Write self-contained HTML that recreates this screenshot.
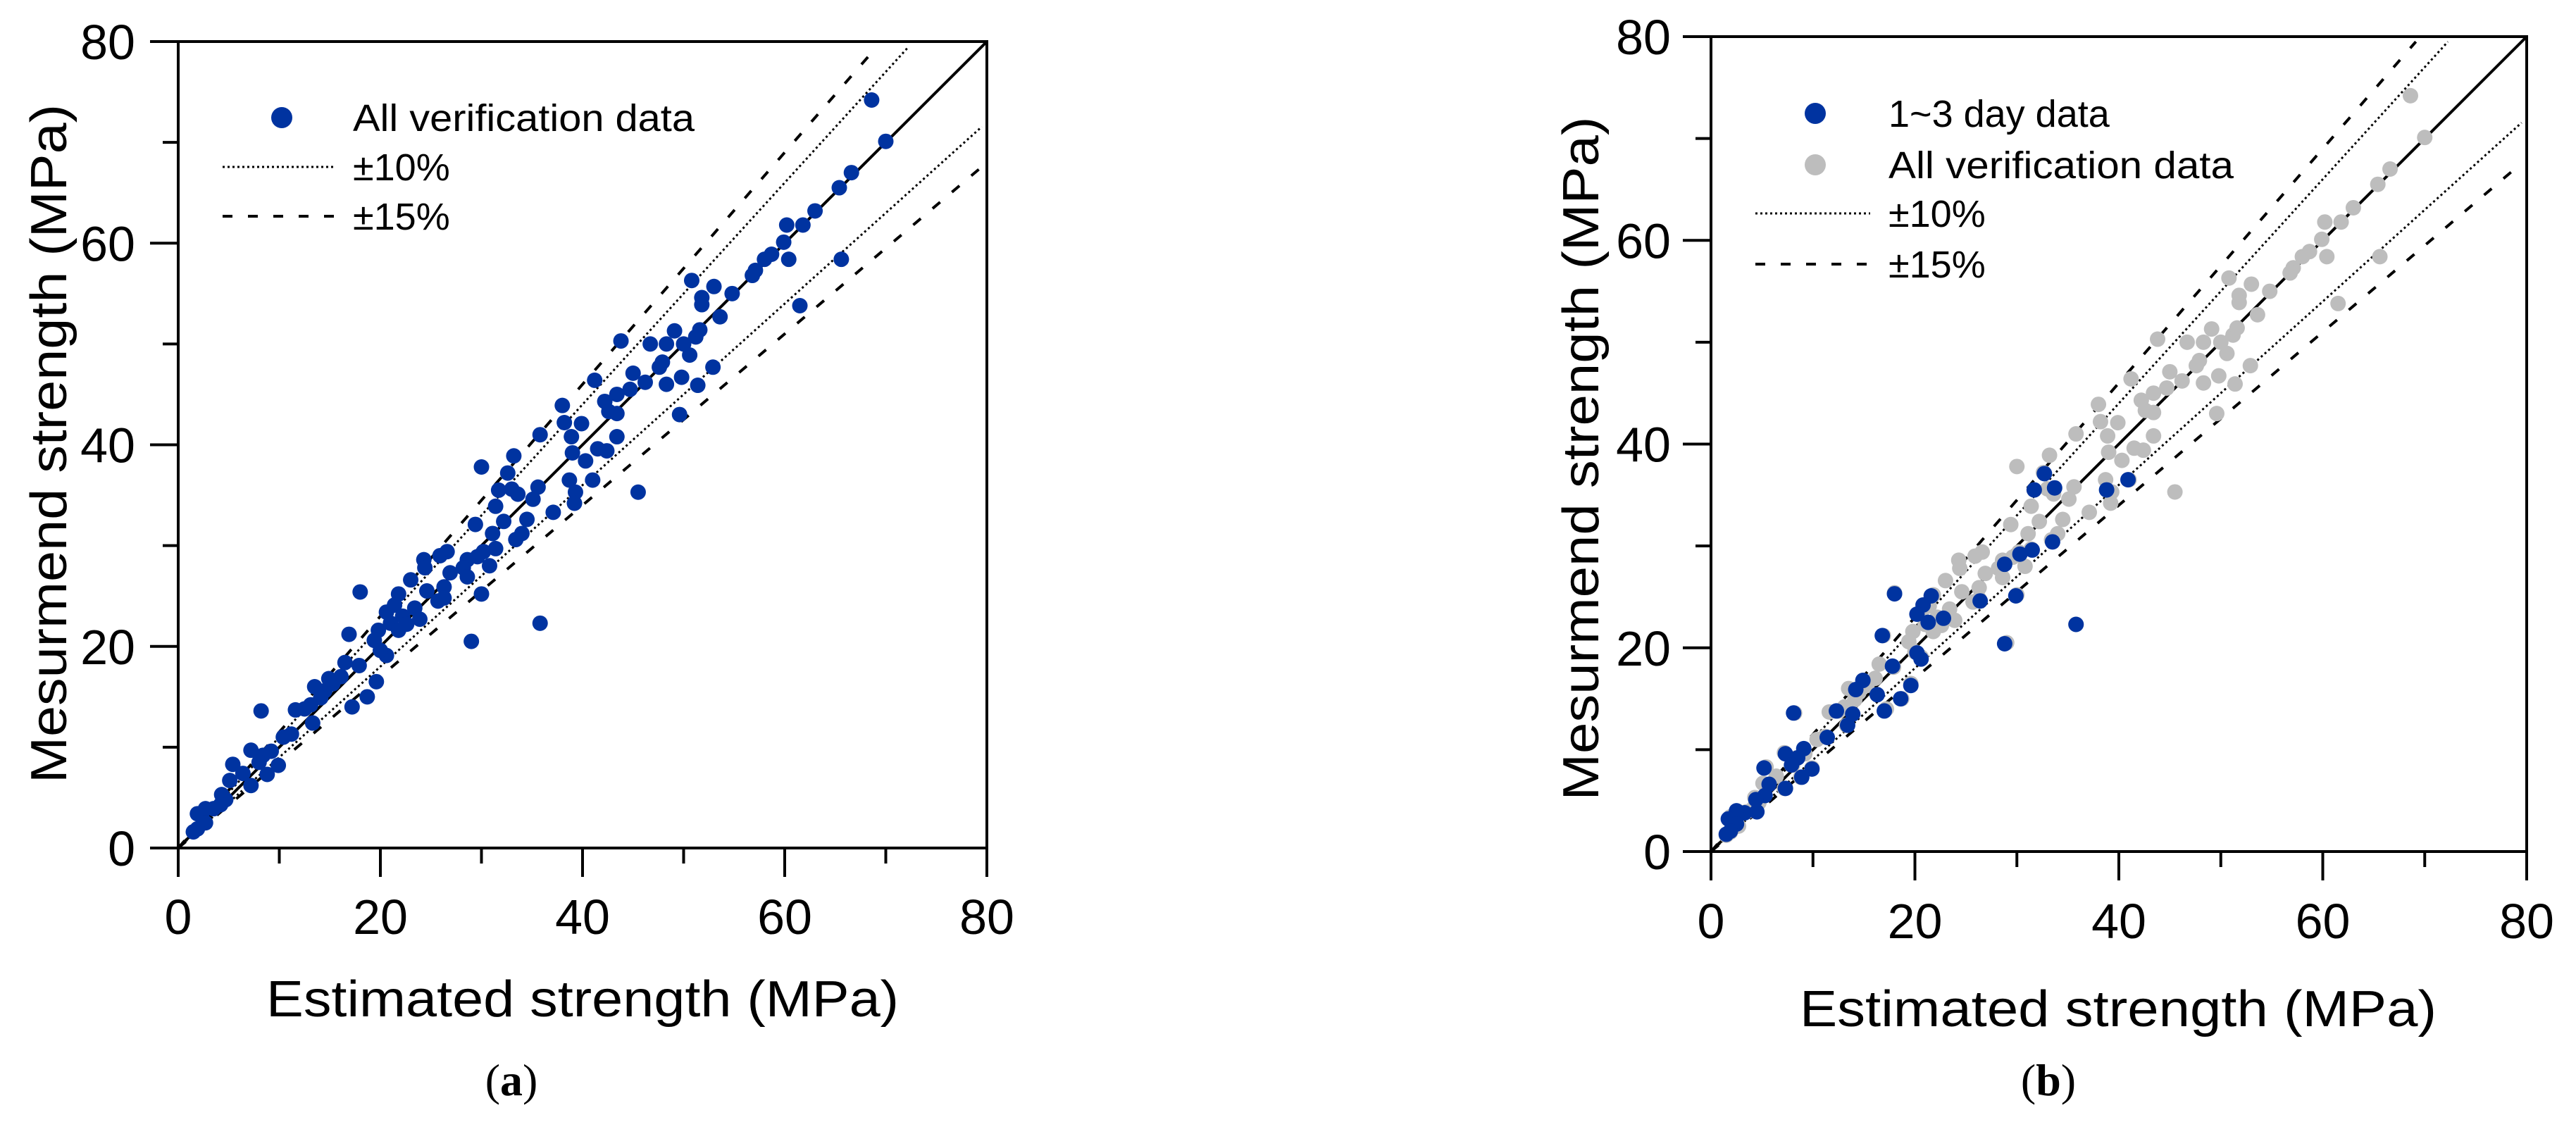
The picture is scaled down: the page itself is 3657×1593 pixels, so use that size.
<!DOCTYPE html>
<html><head><meta charset="utf-8"><style>
html,body{margin:0;padding:0;background:#fff;}
svg{display:block;}
text{font-family:"Liberation Sans",Arial,sans-serif;fill:#000;}
.cap{font-family:"Liberation Serif","Times New Roman",serif;}
</style></head><body>
<svg id="fig" width="3657" height="1593" viewBox="0 0 3657 1593" xmlns="http://www.w3.org/2000/svg">
<g id="panelA"></g>
<g id="panelB"></g>
</svg>
<script>
// All verification data (estimated, measured) in MPa
const allX = [68.6,70,66.6,65.4,63,61.8,60.2,59.9,60.4,65.6,58.7,58,57.1,56.8,54.8,53,51.8,51.8,53.6,50.8,61.5,52.9,51.4,49.6,49.8,48.3,47.6,47.9,46.7,48.3,49.1,50.6,51.2,51.6,50,46.2,45,44.7,43.8,43.4,42.2,42.6,43.4,41.2,43.4,42.4,41.5,41,40.3,39.9,39,38.9,38.2,38,38.7,39.3,39.2,37.1,35.8,35.6,35.1,34.5,33.2,32.6,31.7,33,33.6,34,33.4,31.4,32.2,31.1,30,29.4,31.4,30.2,29.6,30.8,28.6,28.2,28.6,30,29,35.8,45.5,26.6,25.9,24.3,24.4,23,24.6,26.9,26.3,25.7,26.3,21.8,21.4,20.6,22.2,23.4,23.9,21,21.8,22.6,19.8,19.4,20.6,20,18,16.9,19.6,18.7,17.9,16.5,16.1,17.2,15.3,14.5,14.9,13.5,14.1,13.1,12.5,11.6,13.3,11.2,10.4,8.2,9.2,8.4,7.2,8,8.8,9.9,5.4,6.4,7.2,5.1,4.3,4.7,3.5,2.7,1.9,2.3,2.7,1.9,1.5,4.2];
const allY = [74.2,70.1,67,65.5,63.2,61.8,61.8,60.1,58.4,58.4,58.9,58.4,57.3,56.8,55,55.7,54.6,53.9,52.7,56.3,53.8,47.7,45.9,43,46.7,46,47.7,48.2,50,50,51.3,48.9,50.7,51.4,50,46.2,47.1,45.5,50.3,45,44.3,43.3,43.1,46.4,40.8,39.4,39.6,36.5,38.4,42.1,39.2,40.8,42.2,43.9,36.5,35.3,34.2,33.3,41,35.8,34.6,32.6,38.9,37.2,35.5,35.6,35.1,31.2,30.6,33.9,32.4,31.2,37.8,32.1,29.7,29.4,28.9,28,28.6,27.8,26.9,25.2,20.5,22.3,35.3,29.4,29,28.6,27.8,26.6,25.5,27.3,25.9,24.5,24.8,25.2,24.1,23.4,23,23.8,22.7,22.3,21.6,22.2,21.6,20.6,19.1,19.6,25.4,21.2,16.5,15,18.1,18.4,17,14,16.3,15.6,16.8,16,14.9,14.2,13.8,13.7,12.4,11.3,11,13.6,9.6,9.2,9.7,8.5,7.3,8.2,8.3,7.4,6.2,6.7,5.3,4.8,3.9,3.9,3.4,3.2,2.5,1.9,1.6,4.3];
// 1~3 day data
const earlyX = [32.7,31.7,33.7,38.8,40.9,33.5,31.5,30.3,28.8,29.9,26.4,28.8,35.8,18,21.6,20.8,21.3,22.8,20.2,16.8,20.2,20.6,17.8,19.6,18.6,17,16.3,14.9,14.2,13.9,13.4,12.3,11.4,8.1,9.1,8.5,7.3,7.9,8.9,9.9,5.2,5.7,7.3,5.3,4.4,4.5,3.3,2.5,1.7,2.5,1.9,1.5];
const earlyY = [37.1,35.5,35.7,35.5,36.5,30.4,29.6,29.2,28.2,25.1,24.6,20.4,22.3,25.3,25.1,24.2,22.5,22.9,23.3,21.2,19.5,18.9,18.2,16.3,15,13.8,15.4,16.8,15.9,13.5,12.4,13.8,11.2,13.6,10.1,9.2,9.6,8.5,7.3,8.1,8.2,6.6,6.2,5.5,5.1,3.9,3.8,4,3.2,2.7,2,1.7];
const tickVals = [0,20,40,60,80];
const minorVals = [10,30,50,70];
const bandFactors = [1.1,0.9];
const wideFactors = [1.15,0.85];

const NS = "http://www.w3.org/2000/svg";
function mk(tag, attrs, parent){
  const e = document.createElementNS(NS, tag);
  for (const k in attrs) e.setAttribute(k, attrs[k]);
  parent.appendChild(e);
  return e;
}

function drawPanel(g, P){
  const sx = v => P.l + (v/80)*(P.r-P.l);
  const sy = v => P.b - (v/80)*(P.b-P.t);
  const id = g.id;
  const defs = mk('defs', {}, g);
  const cp = mk('clipPath', {id: id+'clip'}, defs);
  mk('rect', {x:P.l, y:P.t, width:P.r-P.l, height:P.b-P.t}, cp);
  const lines = mk('g', {'clip-path':'url(#'+id+'clip)'}, g);
  
  
  let ln = mk('line', {x1:sx(0), y1:sy(0), x2:sx(80), y2:sy(80), stroke:'#000', 'stroke-width':4}, lines);
  
  
  bandFactors.forEach(f => {
    const xe = Math.min(79.5, 79.5/f);
    const l = mk('line', {x1:sx(0), y1:sy(0), x2:sx(xe), y2:sy(xe*f), stroke:'#000', 'stroke-width':3, 'stroke-dasharray':'3 4'}, lines);
    
    
  });
  wideFactors.forEach(f => {
    const xe = Math.min(79.5, 79.5/f);
    const l = mk('line', {x1:sx(0), y1:sy(0), x2:sx(xe), y2:sy(xe*f), stroke:'#000', 'stroke-width':4, 'stroke-dasharray':'14 22'}, lines);
    
    
  });
  const pts = mk('g', {}, g);
  
  
  allX.forEach((x,i) => {
    const c = mk('circle', {cx:sx(x), cy:sy(allY[i]), r:11, fill:P.allColor}, pts);
    
    
  });
  if (P.early){
    earlyX.forEach((x,i) => {
      const c = mk('circle', {cx:sx(x), cy:sy(earlyY[i]), r:11, fill:'#0033a0'}, pts);
      
      
    });
  }
  const fr = mk('rect', {x:P.l, y:P.t, width:P.r-P.l, height:P.b-P.t, fill:'none', stroke:'#000', 'stroke-width':4}, g);
  
  
  const ax = mk('g', {}, g);
  
  
  tickVals.forEach(v => {
    const t1 = mk('line', {x1:sx(v), y1:P.b, x2:sx(v), y2:P.b+41, stroke:'#000','stroke-width':4}, ax);
    
    
    const t2 = mk('line', {x1:P.l-40, y1:sy(v), x2:P.l, y2:sy(v), stroke:'#000','stroke-width':4}, ax);
    
    
    const lx = mk('text', {x:sx(v), y:P.xlabBase, 'font-size':70, 'text-anchor':'middle'}, ax);
    lx.textContent = v;
    
    
    const ly = mk('text', {x:P.ylabRight, y:sy(v)+25, 'font-size':70, 'text-anchor':'end'}, ax);
    ly.textContent = v;
    
    
  });
  minorVals.forEach(v => {
    const t1 = mk('line', {x1:sx(v), y1:P.b, x2:sx(v), y2:P.b+22, stroke:'#000','stroke-width':4}, ax);
    
    
    const t2 = mk('line', {x1:P.l-22, y1:sy(v), x2:P.l, y2:sy(v), stroke:'#000','stroke-width':4}, ax);
    
    
  });
  const xt = mk('text', {x:P.xtX, y:P.xtBase, 'font-size':72, 'text-anchor':'middle', textLength:P.xtLen, lengthAdjust:'spacingAndGlyphs'}, g);
  xt.textContent = 'Estimated strength (MPa)';
  
  
  const yt = mk('text', {x:0, y:0, 'font-size':72, 'text-anchor':'middle', textLength:P.ytLen, lengthAdjust:'spacingAndGlyphs', transform:'translate('+(P.ytX+25)+','+P.ytY+') rotate(-90)'}, g);
  yt.textContent = 'Mesurmend strength (MPa)';
  
  
  const cap = mk('text', {x:P.capX, y:1555, 'font-size':64, 'text-anchor':'middle', 'class':'cap'}, g);
  cap.innerHTML = '(<tspan font-weight="bold">'+P.cap+'</tspan>)';
  
  
  const lg = mk('g', {}, g);
  
  
  P.legend.forEach(e => {
    const eg = mk('g', {}, lg);
    
    
    if (e.type === 'dot') {
      mk('circle', {cx:P.legDotX, cy:e.y, r:15, fill:e.color}, eg);
    } else {
      mk('line', {x1:P.legL1, y1:e.y, x2:P.legL2, y2:e.y, stroke:'#000', 'stroke-width': e.type==='dot10'?3:4, 'stroke-dasharray': e.type==='dot10'?'3 4':'14 22'}, eg);
    }
    const t = mk('text', {x:P.legTextX, y:e.y+19, 'font-size':54}, eg);
    if (e.len) { t.setAttribute('textLength', e.len); t.setAttribute('lengthAdjust','spacingAndGlyphs'); }
    t.textContent = e.label;
  });
}

drawPanel(document.getElementById('panelA'), {
  l:253, r:1401, t:59, b:1204, allColor:'#0033a0', early:false,
  xlabBase:1326, ylabRight:192, xtX:827, xtBase:1443, xtLen:898, ytX:69, ytY:630, ytLen:964, capX:726, cap:'a',
  legDotX:400, legL1:316, legL2:476, legTextX:501,
  legend:[{type:'dot', color:'#0033a0', y:167, label:'All verification data', len:485},
          {type:'dot10', y:237, label:'±10%'},
          {type:'dash15', y:307, label:'±15%'}]
});
drawPanel(document.getElementById('panelB'), {
  l:2429, r:3587, t:52, b:1209, allColor:'#bdbdbd', early:true,
  xlabBase:1332, ylabRight:2372, xtX:3007, xtBase:1457, xtLen:904, ytX:2244, ytY:651, ytLen:971, capX:2908, cap:'b',
  legDotX:2577, legL1:2492, legL2:2655, legTextX:2681,
  legend:[{type:'dot', color:'#0033a0', y:161, label:'1~3 day data'},
          {type:'dot', color:'#bdbdbd', y:234, label:'All verification data', len:490},
          {type:'dot10', y:303, label:'±10%'},
          {type:'dash15', y:375, label:'±15%'}]
});
</script>
</body></html>
